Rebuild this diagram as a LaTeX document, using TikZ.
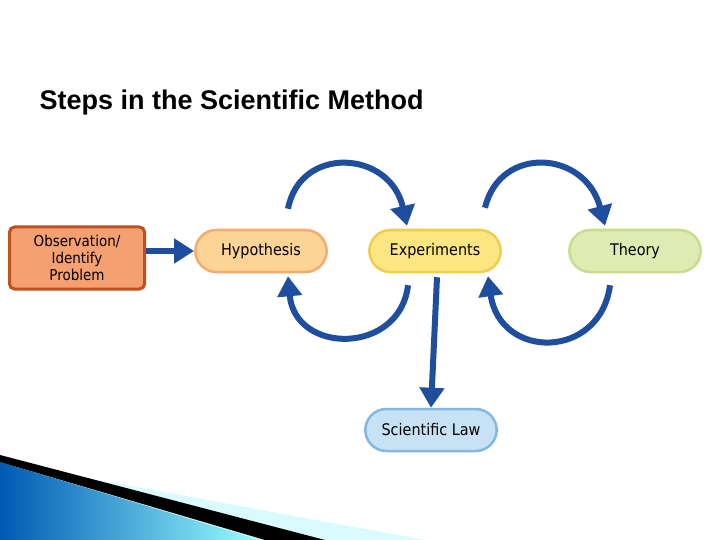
\documentclass[tikz,border=0pt]{standalone}
\usepackage{fontspec}
\setmainfont{Liberation Sans}
\newfontfamily\boxfont{DejaVu Sans Condensed}
\usetikzlibrary{arrows.meta,shapes.misc,calc}
\definecolor{arrowblue}{HTML}{1F4E9E}
\begin{document}
\begin{tikzpicture}[x=1pt,y=-1pt]
\tikzset{
  pill/.style={rounded rectangle, minimum width=138pt, minimum height=42pt, line width=2.5pt, font=\boxfont\fontsize{16}{18}\selectfont},
  bigarrow/.style={arrowblue, line width=6pt, -{Triangle[length=20pt,width=24pt]}}
}
\useasboundingbox (0,0) rectangle (720,540);
% bottom left decoration
\fill[blue!10!cyan!15] (0,462) -- (425,540) -- (0,540) -- cycle;
\shade[left color=cyan!50!blue!70!black, right color=cyan!40] (0,462) -- (260,540) -- (0,540) -- cycle;
\fill[black] (0,455) -- (325,540) -- (265,540) -- (0,462) -- cycle;
% title
\node[anchor=west, font=\bfseries\fontsize{27}{30}\selectfont] (title) at (36,103) {Steps in the Scientific Method};
% boxes
\node[draw={rgb,255:red,192;green,80;blue,30}, fill={rgb,255:red,244;green,160;blue,112}, line width=3pt, rounded corners=5pt, minimum width=135pt, minimum height=62pt, align=center, font=\boxfont\fontsize{15}{17}\selectfont] (obs) at (77,258) {Observation/\\Identify\\Problem};
\node[pill, draw={rgb,255:red,245;green,170;blue,110}, fill={rgb,255:red,252;green,212;blue,150}] (hyp) at (261,251) {Hypothesis};
\node[pill, draw={rgb,255:red,240;green,205;blue,80}, fill={rgb,255:red,252;green,230;blue,130}] (exp) at (435,251) {Experiments};
\node[pill, draw={rgb,255:red,200;green,222;blue,140}, fill={rgb,255:red,222;green,236;blue,180}] (thy) at (635,251) {Theory};
\node[pill, draw={rgb,255:red,130;green,185;blue,225}, fill={rgb,255:red,200;green,226;blue,245}] (law) at (431,430) {Scientific Law};
% arrows
\draw[bigarrow] (obs.east |- hyp.west) -- (hyp.west);
\draw[bigarrow] ($(exp.south)+(2,4)$) -- (law.north);
\draw[bigarrow] ($(hyp.north)+(27,-20)$) .. controls (300,145) and (390,150) .. ($(exp.north)+(-28,-3)$);
\draw[bigarrow] ($(exp.north)+(50,-21)$) .. controls (500,145) and (585,150) .. ($(thy.north)+(-30,-3)$);
\draw[bigarrow] ($(exp.south)+(-27,12)$) .. controls (400,355) and (295,355) .. ($(hyp.south)+(27,3)$);
\draw[bigarrow] ($(thy.south)+(-25,12)$) .. controls (600,360) and (500,360) .. ($(exp.south)+(53,3)$);
\end{tikzpicture}
\end{document}
